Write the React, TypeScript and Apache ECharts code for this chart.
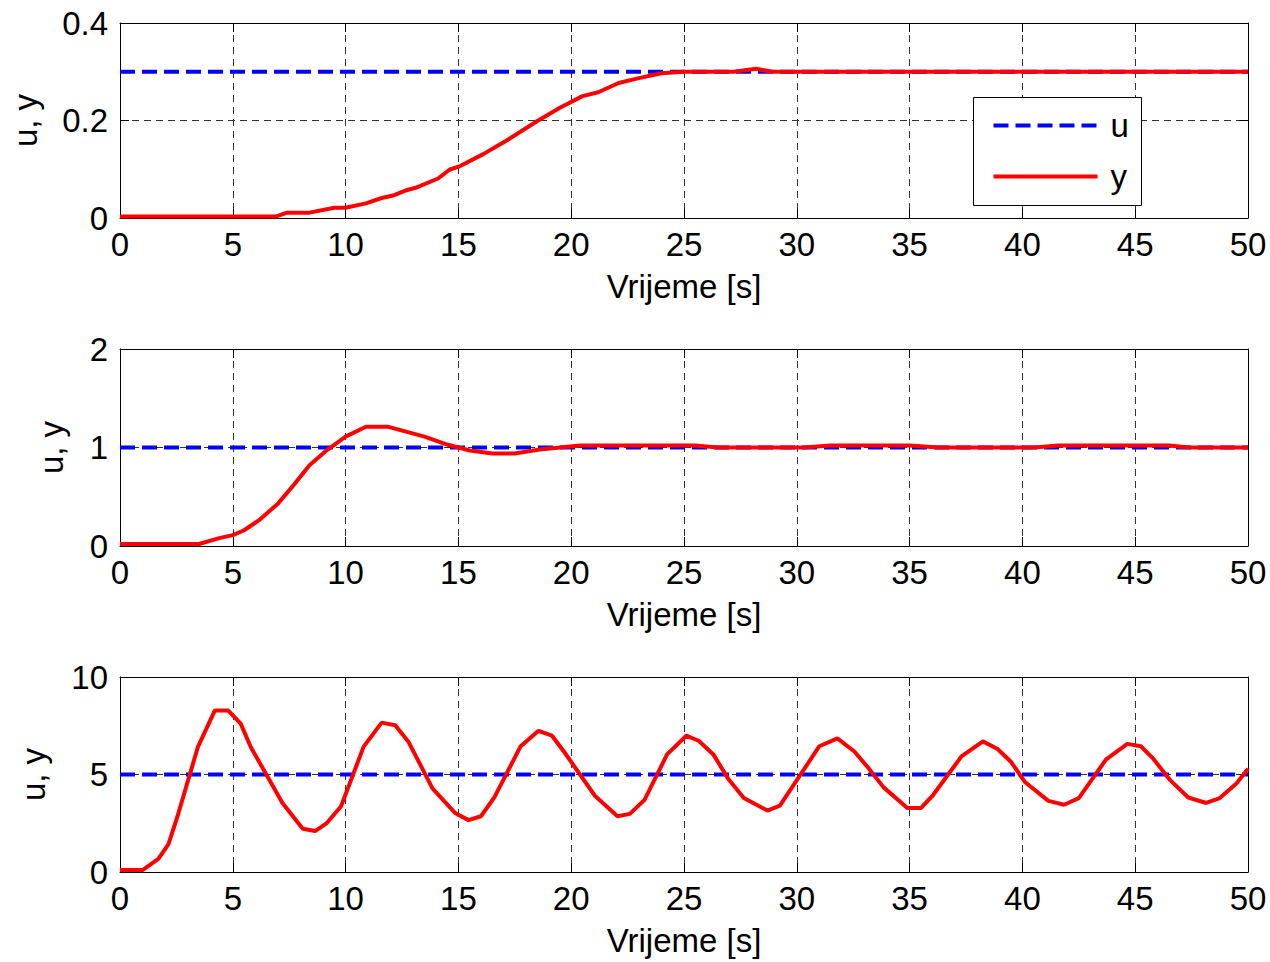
import React, { useEffect, useRef } from "react";
import * as echarts from "echarts";

// Top plot (u = 0.3)
const topT = [0, 6.9, 7.4, 8.4, 9.5, 10.0, 10.9, 11.6, 12.1, 12.7, 13.1, 14.1, 14.6, 15.1, 16.1, 17.1, 18.5, 19.5, 20.5, 21.2, 22.1, 23.0, 24.0, 25.0, 27.2, 28.2, 28.9, 50];
const topY = [0.003, 0.003, 0.011, 0.011, 0.021, 0.021, 0.03, 0.041, 0.046, 0.057, 0.062, 0.081, 0.099, 0.107, 0.131, 0.158, 0.199, 0.226, 0.25, 0.258, 0.277, 0.287, 0.297, 0.3, 0.3, 0.306, 0.3, 0.3];
const topU = 0.3;

// Middle plot (u = 1)
const midT = [0, 3.5, 4.4, 5.0, 5.5, 6.15, 7.0, 7.7, 8.4, 9.1, 10.0, 10.9, 11.9, 13.5, 14.5, 15.5, 16.5, 17.5, 18.6, 20.4, 25.5, 26.5, 30.3, 31.5, 35.0, 36.3, 40.5, 41.6, 46.5, 47.4, 50];
const midY = [0.02, 0.02, 0.08, 0.11, 0.16, 0.26, 0.43, 0.62, 0.82, 0.96, 1.11, 1.21, 1.21, 1.11, 1.03, 0.97, 0.94, 0.94, 0.98, 1.02, 1.02, 1.0, 1.0, 1.02, 1.02, 1.0, 1.0, 1.02, 1.02, 1.0, 1.0];
const midU = 1;

// Bottom plot (u = 5)
const botT = [0, 1.0, 1.7, 2.15, 2.55, 3.45, 4.2, 4.8, 5.35, 5.8, 6.5, 7.2, 8.1, 8.65, 9.15, 9.8, 10.8, 11.6, 12.2, 12.8, 13.85, 14.85, 15.45, 16.0, 16.6, 17.75, 18.55, 19.15, 19.7, 21.05, 22.05, 22.6, 23.25, 24.25, 25.1, 25.65, 26.3, 26.95, 27.65, 28.7, 29.25, 31.0, 31.8, 32.55, 33.2, 33.85, 34.9, 35.5, 36.05, 37.3, 38.25, 38.9, 39.5, 40.1, 41.15, 41.85, 42.5, 43.7, 44.65, 45.25, 45.8, 46.55, 47.35, 48.15, 48.75, 49.5, 50];
const botY = [0.1, 0.1, 0.67, 1.43, 2.86, 6.40, 8.28, 8.28, 7.61, 6.40, 4.97, 3.54, 2.22, 2.10, 2.49, 3.37, 6.43, 7.66, 7.53, 6.65, 4.29, 3.03, 2.66, 2.86, 3.84, 6.43, 7.24, 6.99, 6.14, 3.91, 2.86, 2.98, 3.70, 6.03, 6.99, 6.73, 6.03, 4.80, 3.79, 3.15, 3.40, 6.45, 6.85, 6.18, 5.30, 4.34, 3.28, 3.28, 3.96, 5.93, 6.70, 6.31, 5.64, 4.63, 3.65, 3.45, 3.79, 5.76, 6.57, 6.45, 5.81, 4.71, 3.82, 3.54, 3.79, 4.55, 5.30];
const botU = 5;

const xMin = 0;
const xMax = 50;
const xStep = 5;
const yRanges = [
  { min: 0, max: 0.4, interval: 0.2 },
  { min: 0, max: 2, interval: 1 },
  { min: 0, max: 10, interval: 5 },
];
const xName = "Vrijeme [s]";
const yName = "u, y";
const legendNames = ["u", "y"];

const FONT = "'Liberation Sans', Arial, Helvetica, sans-serif";
const FS = 33;
const BLUE = "#0000ff";
const RED = "#ff0000";

export default function App() {
  const ref = useRef<HTMLDivElement>(null);
  useEffect(() => {
    if (!ref.current) return;
    const chart = echarts.init(ref.current, undefined, { renderer: "svg" });
    const grids = [
      { left: 120, top: 23, width: 1128, height: 195 },
      { left: 120, top: 349, width: 1128, height: 197 },
      { left: 120, top: 677, width: 1128, height: 195 },
    ];
    const yNameGaps = [78, 52, 70];
    const splitStyle = { show: true, lineStyle: { color: "#333", width: 1, type: [7, 5] as any } };
    const axisLine = { show: true, onZero: false, lineStyle: { color: "#000", width: 1 } };
    const tick = { show: true, inside: true, length: 9, lineStyle: { color: "#000" } };

    const xAxes: any[] = [];
    const yAxes: any[] = [];
    for (let i = 0; i < 3; i++) {
      xAxes.push({
        type: "value", gridIndex: i, position: "bottom", min: xMin, max: xMax, interval: xStep,
        axisLine, axisTick: tick, splitLine: splitStyle,
        axisLabel: { color: "#000", fontSize: FS, fontFamily: FONT, margin: 10 },
        name: xName, nameLocation: "middle", nameGap: 52,
        nameTextStyle: { color: "#000", fontSize: FS, fontFamily: FONT },
      });
      yAxes.push({
        type: "value", gridIndex: i, position: "left", ...yRanges[i],
        axisLine, axisTick: tick, splitLine: splitStyle,
        axisLabel: { color: "#000", fontSize: FS, fontFamily: FONT, margin: 12 },
        name: yName, nameLocation: "middle", nameGap: yNameGaps[i],
        nameTextStyle: { color: "#000", fontSize: FS, fontFamily: FONT },
      });
    }
    for (let i = 0; i < 3; i++) {
      xAxes.push({
        type: "value", gridIndex: i, position: "top", min: xMin, max: xMax, interval: xStep,
        axisLine, axisTick: tick, splitLine: { show: false }, axisLabel: { show: false },
      });
      yAxes.push({
        type: "value", gridIndex: i, position: "right", ...yRanges[i],
        axisLine, axisTick: tick, splitLine: { show: false }, axisLabel: { show: false },
      });
    }

    const sets = [
      { t: topT, y: topY, u: topU },
      { t: midT, y: midY, u: midU },
      { t: botT, y: botY, u: botU },
    ];
    const series: any[] = [];
    sets.forEach((s, i) => {
      series.push({
        name: "u", type: "line", xAxisIndex: i, yAxisIndex: i, symbol: "none",
        data: [[xMin, s.u], [xMax, s.u]],
        lineStyle: { color: BLUE, width: 4, type: [15, 7] },
        itemStyle: { color: BLUE }, z: 3,
      });
      series.push({
        name: "y", type: "line", xAxisIndex: i, yAxisIndex: i, symbol: "none",
        data: s.t.map((t, k) => [t, s.y[k]]),
        lineStyle: { color: RED, width: 4 },
        itemStyle: { color: RED }, z: 4,
      });
    });

    const Z = 100;
    const legendGraphic = {
      type: "group", left: 973, top: 97, z: Z,
      children: [
        { type: "rect", z: Z, shape: { x: 0, y: 0, width: 168, height: 108 }, style: { fill: "#fff", stroke: "#000", lineWidth: 1 } },
        { type: "line", z: Z + 1, shape: { x1: 20, y1: 28, x2: 124, y2: 28 }, style: { stroke: BLUE, lineWidth: 4, lineDash: [15, 7] } },
        { type: "line", z: Z + 1, shape: { x1: 20, y1: 79, x2: 124, y2: 79 }, style: { stroke: RED, lineWidth: 4 } },
        { type: "text", z: Z + 1, x: 137, y: 28, style: { text: legendNames[0], fill: "#000", font: `${FS}px ${FONT}`, verticalAlign: "middle", align: "left" } },
        { type: "text", z: Z + 1, x: 137, y: 79, style: { text: legendNames[1], fill: "#000", font: `${FS}px ${FONT}`, verticalAlign: "middle", align: "left" } },
      ],
    };

    chart.setOption({
      animation: false,
      backgroundColor: "#fff",
      grid: grids,
      xAxis: xAxes,
      yAxis: yAxes,
      graphic: [legendGraphic],
      series,
    });
    return () => chart.dispose();
  }, []);
  return <div ref={ref} style={{ position: "fixed", left: 0, top: 0, width: 1270, height: 962 }} />;
}
